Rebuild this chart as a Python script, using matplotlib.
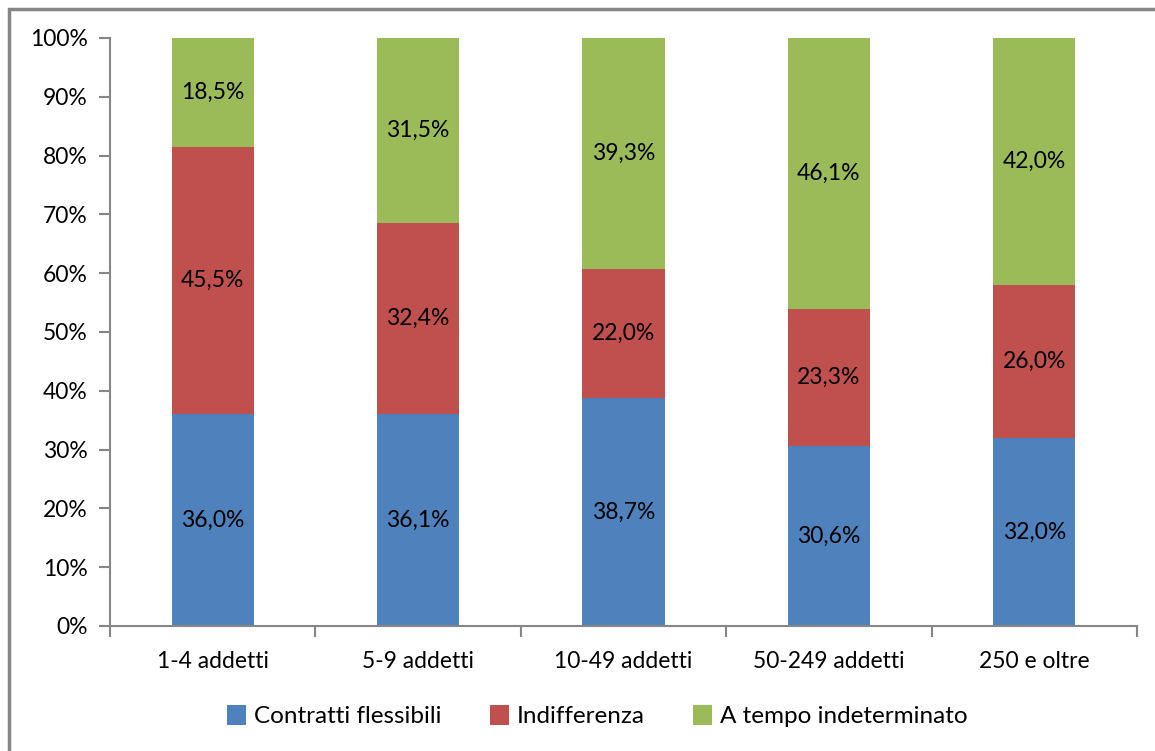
import matplotlib.pyplot as plt
from matplotlib.patches import Rectangle
from matplotlib.ticker import FixedLocator

plt.rcParams['font.family'] = ['Lato', 'DejaVu Sans']

categorie = ['1-4 addetti', '5-9 addetti', '10-49 addetti', '50-249 addetti', '250 e oltre']
flessibili = [36.0, 36.1, 38.7, 30.6, 32.0]
indifferenza = [45.5, 32.4, 22.0, 23.3, 26.0]
indeterminato = [18.5, 31.5, 39.3, 46.1, 42.0]

serie = [('Contratti flessibili', flessibili, '#4F81BD'),
         ('Indifferenza', indifferenza, '#C0504D'),
         ('A tempo indeterminato', indeterminato, '#9BBB59')]

fs = 16.5

fig = plt.figure(figsize=(11.55, 7.51), dpi=100)
# cornice grigia del grafico
fig.patches.append(Rectangle((9 / 1155, -0.1), 1.2, 1 - 9 / 751 + 0.1, transform=fig.transFigure,
                             fill=False, edgecolor='#868686', linewidth=2.5))
ax = fig.add_axes([110 / 1155, 1 - 626 / 751, 1027 / 1155, 588 / 751])

x = list(range(len(categorie)))
base = [0] * len(categorie)
for nome, valori, colore in serie:
    ax.bar(x, valori, width=0.4, bottom=base, color=colore, label=nome)
    for xi, b, v in zip(x, base, valori):
        ax.text(xi, b + v / 2, f'{v:.1f}%'.replace('.', ','), ha='center', va='center',
                fontsize=fs, color='black')
    base = [b + v for b, v in zip(base, valori)]

ax.set_xlim(-0.5, len(categorie) - 0.5)
ax.set_ylim(0, 100)
ax.set_yticks(range(0, 101, 10))
ax.set_yticklabels([f'{v}%' for v in range(0, 101, 10)], fontsize=fs)
ax.set_xticks(x)
ax.set_xticklabels(categorie, fontsize=fs)
ax.xaxis.set_minor_locator(FixedLocator([i - 0.5 for i in range(len(categorie) + 1)]))
ax.tick_params(axis='x', which='major', length=0, pad=18)
ax.tick_params(axis='x', which='minor', length=8, color='#868686', width=1.5)
ax.tick_params(axis='y', length=8, color='#868686', width=1.5, pad=8)
for s in ['top', 'right']:
    ax.spines[s].set_visible(False)
for s in ['left', 'bottom']:
    ax.spines[s].set_color('#868686')
    ax.spines[s].set_linewidth(1.5)

fig.legend(loc='center', bbox_to_anchor=(0.517, 1 - 716 / 751), ncol=3, frameon=False,
           fontsize=fs + 1, handlelength=0.8, handleheight=0.9, columnspacing=2.0, handletextpad=0.3)

fig.savefig('out.png', dpi=100)
